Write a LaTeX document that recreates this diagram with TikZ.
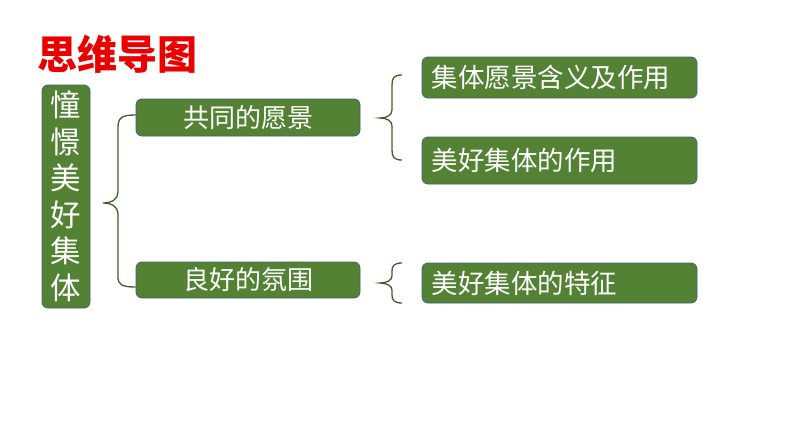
\documentclass[tikz,border=0pt]{standalone}
\usepackage{fontspec}
\setmainfont{Noto Sans CJK SC}
\definecolor{boxgreen}{RGB}{84,130,53}
\definecolor{boxline}{RGB}{65,100,110}
\definecolor{bracegreen}{RGB}{62,95,40}
\definecolor{titlered}{RGB}{235,0,0}
\tikzset{
  gbox/.style={draw=boxline, line width=0.8pt, fill=boxgreen, rounded corners=6pt, text=white, inner sep=0pt},
  brace/.style={draw=bracegreen, line width=1.3pt},
  rtext/.style={anchor=west, text=white, font=\fontsize{26.5}{26.5}\selectfont, inner sep=0pt},
}
\begin{document}
\begin{tikzpicture}[x=1pt,y=-1pt]
\useasboundingbox (0,0) rectangle (794,447);
\fill[white] (0,0) rectangle (794,447);
% title
\node[text=titlered, font=\fontsize{40}{40}\selectfont\bfseries] (title) at (117.5,54) {思维导图};
% left vertical box
\node[gbox, minimum width=48pt, minimum height=223pt, align=center, font=\fontsize{30.5}{36.5}\selectfont] (root) at (66,196.5) {憧\\憬\\美\\好\\集\\体};
% middle boxes
\node[gbox, minimum width=224pt, minimum height=37pt, font=\fontsize{26}{26}\selectfont] (m1) at (248,117.5) {共同的愿景};
\node[gbox, minimum width=224pt, minimum height=36pt, font=\fontsize{26}{26}\selectfont] (m2) at (248,280) {良好的氛围};
% right boxes
\node[gbox, minimum width=275pt, minimum height=41pt] (r1) at (559.5,77.5) {};
\node[gbox, minimum width=275pt, minimum height=47pt] (r2) at (559.5,160.5) {};
\node[gbox, minimum width=275pt, minimum height=40pt] (r3) at (559.5,283) {};
\node[rtext] (t1) at ([xshift=10pt]r1.west) {集体愿景含义及作用};
\node[rtext] (t2) at ([xshift=10pt]r2.west) {美好集体的作用};
\node[rtext] (t3) at ([xshift=10pt]r3.west) {美好集体的特征};
% brace coordinates
\coordinate (b1tip) at (103,203);
\coordinate (b1top) at (m1.west |- 0,115);
\coordinate (b1bot) at (m2.west |- 0,287);
\coordinate (b2tip) at (380,118);
\coordinate (b2top) at (402,75);
\coordinate (b2bot) at (402,160);
\coordinate (b3tip) at (380,283);
\coordinate (b3top) at (402,263);
\coordinate (b3bot) at (402,303);
% braces
\draw[brace] (b1top) .. controls (121,115) and (118,118) .. (118,128) -- (118,192)
  .. controls (118,199) and (112,203) .. (b1tip)
  .. controls (112,203) and (118,207) .. (118,214) -- (118,277)
  .. controls (118,284) and (121,287) .. (b1bot);
\draw[brace] (b2top) .. controls (394,75) and (392,78) .. (392,85) -- (392,110)
  .. controls (392,115) and (387,118) .. (b2tip)
  .. controls (387,118) and (392,121) .. (392,126) -- (392,150)
  .. controls (392,157) and (394,160) .. (b2bot);
\draw[brace] (b3top) .. controls (394,263) and (392,266) .. (392,271) -- (392,276)
  .. controls (392,280) and (387,283) .. (b3tip)
  .. controls (387,283) and (392,286) .. (392,290) -- (392,295)
  .. controls (392,300) and (394,303) .. (b3bot);
\end{tikzpicture}
\end{document}
